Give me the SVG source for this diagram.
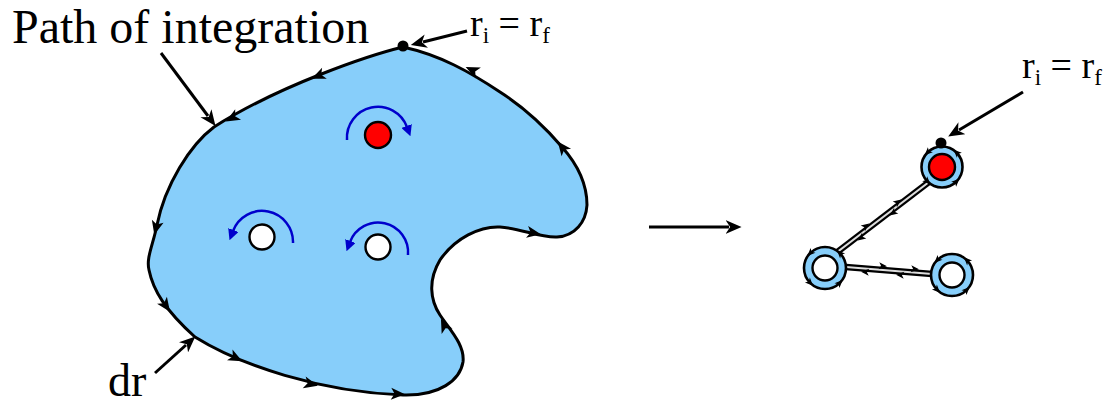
<svg xmlns="http://www.w3.org/2000/svg" width="1106" height="405" viewBox="0 0 1106 405">
  <style>
    .lbl { font-family: "Liberation Serif", "Times New Roman", serif; fill: #000; }
    .edge { fill: none; stroke: #000; stroke-width: 3; }
    .blob { fill: #87CEFA; stroke: #000; stroke-width: 3; stroke-linejoin: round; }
    .swirl { fill: none; stroke: #0000CC; stroke-width: 2.5; }
    .hole { stroke: #000; stroke-width: 2.4; }
    .ring { fill: #87CEFA; stroke: #000; stroke-width: 2.6; }
    .cor-out { stroke: #000; stroke-width: 6.5; stroke-linecap: butt; }
    .cor-in { stroke: #dddddd; stroke-width: 2.2; stroke-linecap: butt; }
  </style>
  <defs>
    <path id="ah" d="M7,0 L-7,-6 L-3.5,0 L-7,6 Z" fill="#000"/>
    <path id="ahs" d="M4,0 L-4,-3.5 L-2,0 L-4,3.5 Z" fill="#000"/>
    <marker id="bk" markerUnits="userSpaceOnUse" viewBox="0 0 14 12" markerWidth="16" markerHeight="14" refX="3" refY="6" orient="auto">
      <path d="M0,0 L14,6 L0,12 L4,6 Z" fill="#000"/>
    </marker>
    <marker id="bl" markerUnits="userSpaceOnUse" viewBox="0 0 10 10" markerWidth="11" markerHeight="11" refX="1" refY="5" orient="auto">
      <path d="M0,0 L10,5 L0,10 Z" fill="#0000CC"/>
    </marker>
  </defs>

  <!-- Left: region with path of integration -->
  <g id="region">
    <path class="blob" d="M403,47 C370,55 280,85 214,127 C190,145 165,185 157,225 C153,245 146,258 149,270 C153,290 165,310 195,337 C240,365 320,392 403,395 C440,396 460,380 463,362 C465,345 450,330 440,315 C430,300 428,280 440,260 C455,238 480,226 500,227 C520,228 540,238 557,237 C575,236 586,222 587,205 C587,185 578,165 562,147 C545,127 525,108 500,92 C470,72 440,55 403,47 Z"/>
    <use href="#ah" transform="translate(318,76) rotate(157)"/>
    <use href="#ah" transform="translate(232,118) rotate(151)"/>
    <use href="#ah" transform="translate(156,228) rotate(104)"/>
    <use href="#ah" transform="translate(166,306) rotate(55)"/>
    <use href="#ah" transform="translate(236,358) rotate(27)"/>
    <use href="#ah" transform="translate(311,384) rotate(14)"/>
    <use href="#ah" transform="translate(398,394) rotate(3)"/>
    <use href="#ah" transform="translate(444,325) rotate(-116)"/>
    <use href="#ah" transform="translate(534,233) rotate(10)"/>
    <use href="#ah" transform="translate(562,147) rotate(-128)"/>
    <use href="#ah" transform="translate(472,70) rotate(-155)"/>
    <circle cx="403" cy="46" r="5.5" fill="#000"/>
  </g>

  <g id="hole-red">
    <circle class="hole" cx="378" cy="135" r="13" fill="#FF0000"/>
    <path class="swirl" d="M347,140 A31,31 0 0 1 407,127" marker-end="url(#bl)"/>
  </g>
  <g id="hole-white-1">
    <circle class="hole" cx="262" cy="237" r="12.5" fill="#FFFFFF"/>
    <path class="swirl" d="M293,243 A31,31 0 0 0 233,231" marker-end="url(#bl)"/>
  </g>
  <g id="hole-white-2">
    <circle class="hole" cx="378" cy="247" r="12.5" fill="#FFFFFF"/>
    <path class="swirl" d="M408,255 A30,30 0 0 0 350,242" marker-end="url(#bl)"/>
  </g>

  <!-- Right: deformed contour -->
  <g id="corridors">
    <line class="cor-out" x1="836" y1="253" x2="929" y2="182"/>
    <line class="cor-in" x1="836" y1="253" x2="929" y2="182"/>
    <line class="cor-out" x1="846" y1="267" x2="932" y2="274"/>
    <line class="cor-in" x1="846" y1="267" x2="932" y2="274"/>
    <use href="#ahs" transform="translate(866,226) rotate(-37)"/>
    <use href="#ahs" transform="translate(898,202) rotate(-37)"/>
    <use href="#ahs" transform="translate(861,238) rotate(143)"/>
    <use href="#ahs" transform="translate(893,213) rotate(143)"/>
    <use href="#ahs" transform="translate(883,266) rotate(5)"/>
    <use href="#ahs" transform="translate(915,269) rotate(5)"/>
    <use href="#ahs" transform="translate(865,272) rotate(185)"/>
    <use href="#ahs" transform="translate(900,275) rotate(185)"/>
  </g>

  <g id="ring-red">
    <circle class="ring" cx="942" cy="167" r="20.5"/>
    <circle class="hole" cx="942" cy="167" r="13" fill="#FF0000"/>
    <use href="#ahs" transform="translate(927.5,152.5) rotate(-225)"/>
    <use href="#ahs" transform="translate(956.5,152.5) rotate(-135)"/>
    <use href="#ahs" transform="translate(956.5,181.5) rotate(-45)"/>
    <use href="#ahs" transform="translate(927.5,181.5) rotate(45)"/>
  </g>
  <g id="ring-left">
    <circle class="ring" cx="825" cy="268" r="21"/>
    <circle class="hole" cx="825" cy="268" r="12.5" fill="#FFFFFF"/>
    <use href="#ahs" transform="translate(810.2,253.2) rotate(-225)"/>
    <use href="#ahs" transform="translate(839.8,253.2) rotate(-135)"/>
    <use href="#ahs" transform="translate(839.8,282.8) rotate(-45)"/>
    <use href="#ahs" transform="translate(810.2,282.8) rotate(45)"/>
  </g>
  <g id="ring-right">
    <circle class="ring" cx="952" cy="275" r="21"/>
    <circle class="hole" cx="952" cy="275" r="12.5" fill="#FFFFFF"/>
    <use href="#ahs" transform="translate(937.2,260.2) rotate(-225)"/>
    <use href="#ahs" transform="translate(966.8,260.2) rotate(-135)"/>
    <use href="#ahs" transform="translate(966.8,289.8) rotate(-45)"/>
    <use href="#ahs" transform="translate(937.2,289.8) rotate(45)"/>
  </g>
  <g id="dot-right">
    <circle cx="941" cy="143" r="5.5" fill="#000"/>
  </g>

  <!-- Pointer arrows -->
  <g id="pointers">
    <line class="edge" x1="161" y1="53" x2="208" y2="116" marker-end="url(#bk)"/>
    <line class="edge" x1="155" y1="373" x2="186" y2="345" marker-end="url(#bk)"/>
    <line class="edge" x1="467" y1="31" x2="423" y2="42" marker-end="url(#bk)"/>
    <line class="edge" x1="1023" y1="92" x2="959" y2="130" marker-end="url(#bk)"/>
    <line class="edge" x1="649" y1="227" x2="729" y2="227" marker-end="url(#bk)"/>
  </g>

  <!-- Labels -->
  <g id="labels">
    <text class="lbl" x="12" y="43" font-size="48">Path of integration</text>
    <text class="lbl" x="470" y="36" font-size="38">r<tspan font-size="23" dy="7">i</tspan><tspan dy="-7"> = r</tspan><tspan font-size="23" dy="7">f</tspan></text>
    <text class="lbl" x="1022" y="78" font-size="38">r<tspan font-size="23" dy="7">i</tspan><tspan dy="-7"> = r</tspan><tspan font-size="23" dy="7">f</tspan></text>
    <text class="lbl" x="108" y="396" font-size="46">dr</text>
  </g>
</svg>
